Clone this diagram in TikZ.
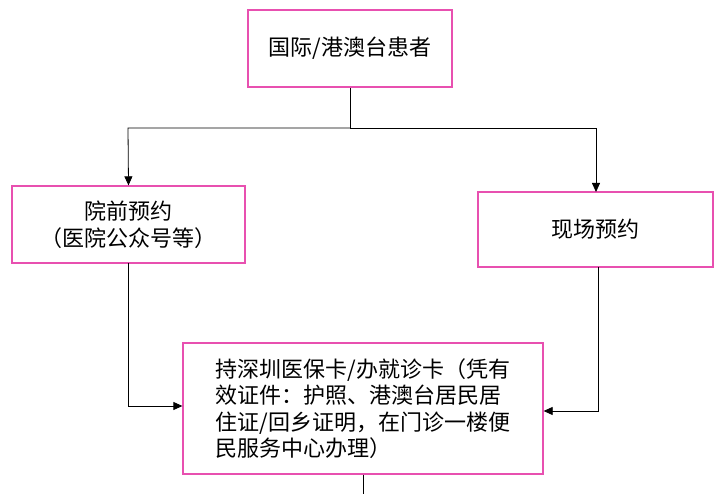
\documentclass[tikz,border=0pt]{standalone}
\usepackage{fontspec}
\newfontfamily\cjk{Noto Sans CJK SC}
\usetikzlibrary{arrows.meta}
\definecolor{pk}{RGB}{232,80,176}
\begin{document}
\begin{tikzpicture}[x=1pt,y=-1pt,
  box/.style={draw=pk,line width=1.3pt,fill=white,inner sep=0pt,font=\cjk\fontsize{22}{26.5}\selectfont,align=center},
  ln/.style={line width=0.8pt},
  ar/.style={ln,-{Triangle[length=9pt,width=8pt]}}]
\useasboundingbox[fill=white] (0,0) rectangle (728,494);
\node[box,minimum width=204pt,minimum height=77pt] (top) at (350,48.5) {国际/港澳台患者};
\node[box,minimum width=233pt,minimum height=77pt] (left) at (128.5,224.5) {院前预约\\（医院公众号等）};
\node[box,minimum width=235pt,minimum height=75pt] (right) at (595.5,229.5) {现场预约};
\node[box,minimum width=360pt,minimum height=131pt,align=left] (bot) at (363,408.5) {持深圳医保卡/办就诊卡（凭有\\效证件：护照、港澳台居民居\\住证/回乡证明，在门诊一楼便\\民服务中心办理）};
\coordinate (j) at (350,128);
\coordinate (e) at (363,494);
\draw[ln] (top.south) -- (j);
\draw[ar] (j) -- (128,128) -- (left.north);
\draw[ar] (j) -- (596,128) -- (596,192);
\draw[ar] (128,263) -- (128,406) -- (bot.west |- 0,406);
\draw[ar] (598,267) -- (598,411) -- (bot.east |- 0,411);
\draw[ln] (bot.south -| e) -- (e);
\end{tikzpicture}
\end{document}
